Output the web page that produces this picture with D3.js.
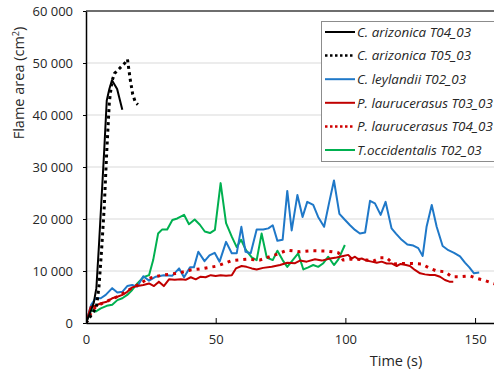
<!DOCTYPE html>
<html><head><meta charset="utf-8">
<script src="https://cdn.jsdelivr.net/npm/d3@7/dist/d3.min.js"></script>
<style>
html,body{margin:0;padding:0;background:#fff;}
svg{display:block;}
text{font-family:"Open Sans","Noto Sans",sans-serif;fill:#262626;}
</style></head><body>
<svg id="c" width="494" height="374"></svg>
<script>
// ---- data ----
const ariz04_t = [0,2,3,4,5,6,7,8,9,10,12,14];
const ariz04_v = [0,2500,3900,6700,15000,24000,33000,42800,45000,46700,45000,41000];

const ariz05_t = [0,2,4,5,6,7,8,9,10,11,13,15,16,17,18,19,20];
const ariz05_v = [0,1500,3000,7000,14000,22000,33000,42500,46500,48000,49000,50000,50700,47000,44000,42500,42000];

const leyl_t = [0,2,3.7,5.7,7.6,10.1,12.1,14,15.9,17.8,19.8,22.1,24.3,26.9,30,33.3,35.9,37.8,40.1,41.6,43.3,45.7,47.6,49.6,51.5,54,56.2,58.1,59.9,61.5,63.5,65.8,68.3,70.3,72,73.8,75.8,77.6,79.3,81.5,83.5,85.3,87.6,89.5,91.8,93.8,95.6,97.7,99.7,101.8,103.7,105.6,107.6,109.5,111.4,113.6,115.5,117.8,119.5,121.7,123.9,126.2,128.1,129.8,131.3,133.3,135.2,137.5,139.7,141.9,144.2,146.1,147.8,149.6,151.6];
const leyl_v = [0,3500,4750,4750,5400,6700,5850,6000,7100,7300,7000,9000,8150,8900,9200,9100,10500,8800,10700,10700,13700,11900,13000,13500,11800,15600,13400,13400,18500,13700,13400,18000,18000,18200,18800,15800,16000,25400,17800,24600,20400,23300,22700,20400,18500,23300,27400,21000,19900,18800,17900,17200,17400,23500,23000,20800,23300,18200,17200,16000,15100,14900,14400,12900,18500,22700,18500,14800,14000,13500,12800,11600,10700,9550,9700];

const pl03_t = [0,1.8,3.7,5.7,8,10.1,12.1,14,15.9,17.8,19.8,22.1,24.3,26.2,28.1,30,32,34.2,36.5,38.4,40.4,42.3,44.2,46.1,48.1,50,51.9,54,56.2,57.8,60,61.9,63.9,65.8,68.3,71.6,74.8,77.6,80.6,82.5,85.1,88.3,90.9,94.1,96.6,99.2,101.1,102.4,103.7,105,106.3,108.2,110.1,112.1,114,115.9,117.8,119.8,121.3,123.4,124.9,126.8,128.8,130.7,132.6,134.5,136.5,138.4,140.1,141.6];
const pl03_v = [0,3100,3300,3800,4100,4750,5050,5400,6000,6850,7100,7300,7600,7100,7950,7100,8400,8300,8400,8300,8800,8400,8900,8800,9200,9050,9200,9100,9170,10500,10960,10800,10500,10300,10600,10800,11150,11600,11500,12000,11800,12250,12000,12400,12600,12900,13100,12400,12750,12250,12400,12000,11800,11600,11800,11450,11450,10960,11350,11150,10960,10200,9550,9350,9230,9230,8900,8270,7950,7950];

const pl04_t = [0,2,3.7,6,9,12.1,15.3,19.8,24.3,29.4,35.2,40.4,45.5,50.6,56.2,61.9,67,72.9,77.6,82.5,87.6,92.8,97.3,99.2,101.8,104.4,108.2,110.8,113.3,115.9,118.5,121.7,125.6,129.4,132.6,135.2,138.4,141,144.2,148,150.6,153.2,157,160];
const pl04_v = [0,2000,3100,3700,4400,5050,6000,7300,8600,9200,9550,10200,10500,10960,12000,12250,12100,13100,14000,13700,13900,13850,13500,12100,12250,12250,12100,11900,12550,12550,11350,11450,11450,11350,10500,10000,9850,8900,8900,9050,8600,8270,7600,7200];

const toc_t = [0,2,3.7,5.7,8,10.1,12.1,14,15.9,17.8,19.8,22.1,24.3,25.9,27.8,29.4,31.3,33.3,35.2,37.8,39.7,41.9,43.9,45.8,47.8,49.7,51.9,54,56.2,58.1,59.8,61.7,63.9,65.8,67.7,69.7,72,73.8,75.8,77.6,79.7,81.8,83.8,85.7,87.6,89.5,91.5,93.4,95.6,97.3,99.8];
const toc_v = [0,2500,2200,2800,3300,3500,4400,4750,5400,6350,7600,8800,9200,12100,17200,18000,18000,19800,20100,20800,19000,19900,18900,17600,17300,17900,26900,19200,16600,14600,16000,14000,12600,12100,17200,12600,12100,13900,12100,10800,12100,13400,10300,10700,11150,10800,11500,12750,11150,12250,15000];

const seriesNames = ["C. arizonica T04_03","C. arizonica T05_03","C. leylandii T02_03","P. laurucerasus T03_03","P. laurucerasus T04_03","T.occidentalis T02_03"];
const xTicks = [0,50,100,150];
const yTicks = [0,10000,20000,30000,40000,50000,60000];

// ---- chart ----
const svg = d3.select("#c");
const x = d3.scaleLinear().domain([0,160]).range([86,501]);
const y = d3.scaleLinear().domain([0,60000]).range([323,11]);
const fmt = v => v===0 ? "0" : d3.format(",")(v).replace(/,/g," ");

svg.append("defs").append("clipPath").attr("id","clip")
  .append("rect").attr("x",86).attr("y",0).attr("width",420).attr("height",324);

// gridlines
svg.append("g").selectAll("line").data(yTicks.filter(d=>d>0 && d<60000)).join("line")
  .attr("x1",86).attr("x2",494).attr("y1",d=>y(d)).attr("y2",d=>y(d))
  .attr("stroke","#d9d9d9").attr("stroke-width",1);
svg.append("line").attr("x1",86).attr("x2",494).attr("y1",y(60000)).attr("y2",y(60000))
  .attr("stroke","#6e6e6e").attr("stroke-width",2);

// series
const series = [
  {t:ariz04_t, v:ariz04_v, color:"#000000", dash:null, w:2},
  {t:ariz05_t, v:ariz05_v, color:"#000000", dash:"3,3.5", w:3},
  {t:leyl_t, v:leyl_v, color:"#1f78c8", dash:null, w:2},
  {t:pl03_t, v:pl03_v, color:"#c00000", dash:null, w:2},
  {t:pl04_t, v:pl04_v, color:"#d00000", dash:"3,5", w:3},
  {t:toc_t, v:toc_v, color:"#00b050", dash:null, w:2}
];
const line = d3.line().x(d=>x(d[0])).y(d=>y(d[1]));
const gS = svg.append("g").attr("clip-path","url(#clip)");
// draw order: green, blue, red dotted, red, black
[5,2,4,3,1,0].forEach(i=>{
  const s = series[i];
  gS.append("path").datum(s.t.map((t,j)=>[t,s.v[j]]))
    .attr("d",line).attr("fill","none").attr("stroke",s.color)
    .attr("stroke-width",s.w).attr("stroke-dasharray",s.dash)
    .attr("stroke-linejoin","round");
});

// axes
const xa = svg.append("g").attr("transform","translate(0,323)")
  .call(d3.axisBottom(x).tickValues(xTicks).tickSizeInner(-5).tickSizeOuter(0).tickPadding(12).tickFormat(d3.format("d")));
xa.select(".domain").attr("stroke","#000").attr("stroke-width",1.5);
xa.selectAll(".tick line").attr("stroke","#000");
xa.selectAll("text").attr("font-size",13).attr("fill","#262626").attr("font-family","Open Sans");

const ya = svg.append("g").attr("transform","translate(86,0)")
  .call(d3.axisLeft(y).tickValues(yTicks).tickSizeInner(3).tickSizeOuter(0).tickPadding(10).tickFormat(fmt));
ya.select(".domain").attr("stroke","#000").attr("stroke-width",1.5);
ya.selectAll(".tick line").attr("stroke","#000");
ya.selectAll("text").attr("font-size",13).attr("fill","#262626").attr("font-family","Open Sans");

// axis titles
svg.append("text").attr("transform","translate(24,83) rotate(-90)")
  .attr("text-anchor","middle").attr("font-size",14.5)
  .html('Flame area (cm<tspan dy="-5" font-size="9">2</tspan><tspan dy="5">)</tspan>');
svg.append("text").attr("x",396).attr("y",366).attr("text-anchor","middle")
  .attr("font-size",14.5).text("Time (s)");

// legend
const lg = svg.append("g");
lg.append("rect").attr("x",321.5).attr("y",21.5).attr("width",200).attr("height",140)
  .attr("fill","#fff").attr("stroke","#8c8c8c").attr("stroke-width",1);
seriesNames.forEach((n,i)=>{
  const yy = 32 + i*23.6;
  const s = series[i];
  lg.append("line").attr("x1",325).attr("x2",355).attr("y1",yy).attr("y2",yy)
    .attr("stroke",s.color).attr("stroke-width",s.dash?2.5:2).attr("stroke-dasharray",s.dash?"2.5,2.5":null);
  lg.append("text").attr("x",357).attr("y",yy+4.8).attr("font-size",13.4)
    .attr("font-style","italic").attr("fill","#000").text(n);
});
</script></body></html>
